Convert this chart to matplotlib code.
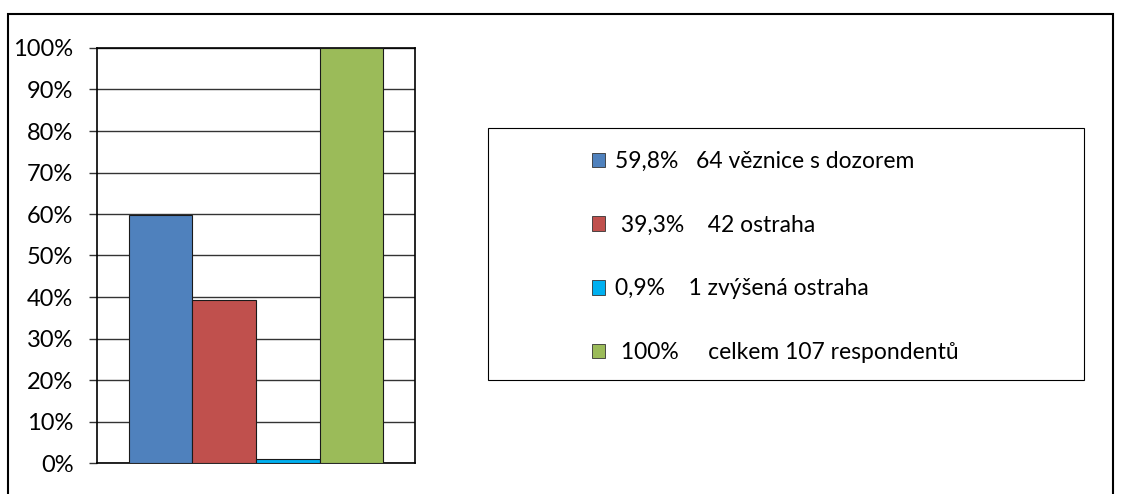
import matplotlib
matplotlib.use("Agg")
import matplotlib.pyplot as plt
from matplotlib.patches import Rectangle, Patch
from matplotlib.ticker import MultipleLocator, PercentFormatter

# values in percent, one bar per series (single category)
values = [59.8, 39.3, 0.9, 100]
labels = ["59,8%   64 věznice s dozorem",
          " 39,3%    42 ostraha",
          "0,9%    1 zvýšená ostraha",
          " 100%     celkem 107 respondentů"]
colors = ["#4F81BD", "#C0504D", "#00B0F0", "#9BBB59"]

plt.rcParams["font.family"] = ["Lato", "DejaVu Sans"]

W, H = 1122, 494
fig = plt.figure(figsize=(W / 100, H / 100), dpi=100)

# plot area in pixels: x 97..415, y 48..463
ax = fig.add_axes([97 / W, 1 - 463 / H, (415 - 97) / W, (463 - 48) / H])
bw = 0.2
xs = [-0.3, -0.1, 0.1, 0.3]
for x, v, c in zip(xs, values, colors):
    ax.bar(x, v, width=bw, color=c, edgecolor="#1a1a1a", linewidth=0.8, zorder=3)

ax.set_xlim(-0.5, 0.5)
ax.set_ylim(0, 100)
ax.yaxis.set_major_locator(MultipleLocator(10))
ax.yaxis.set_major_formatter(PercentFormatter(decimals=0))
ax.set_xticks([])
ax.yaxis.grid(True, color="#333333", linewidth=1.0, zorder=0)
ax.set_axisbelow(True)
ax.tick_params(axis="y", length=6, width=1.0, color="#333333", labelsize=17,
               pad=11)
for s in ax.spines.values():
    s.set_linewidth(1.2)
    s.set_color("black")

# outer chart frame
fig.patches.append(Rectangle((8 / W, -0.02), (1113 - 8) / W, 1 - 14 / H + 0.02,
                             transform=fig.transFigure, fill=False,
                             edgecolor="black", linewidth=1.5))

# legend box
fig.patches.append(Rectangle((488 / W, 1 - 380 / H), (1084 - 488) / W,
                             (380 - 128) / H, transform=fig.transFigure,
                             fill=False, edgecolor="black", linewidth=0.8))
handles = [Patch(facecolor=c, edgecolor="#333333", linewidth=0.6) for c in colors]
fig.legend(handles, labels, loc="center left",
           bbox_to_anchor=(571 / W, 1 - 257 / H), frameon=False,
           fontsize=16.5, labelspacing=1.86, handlelength=0.6, handleheight=0.6,
           handletextpad=0.4)

fig.savefig("out.png", dpi=100)
